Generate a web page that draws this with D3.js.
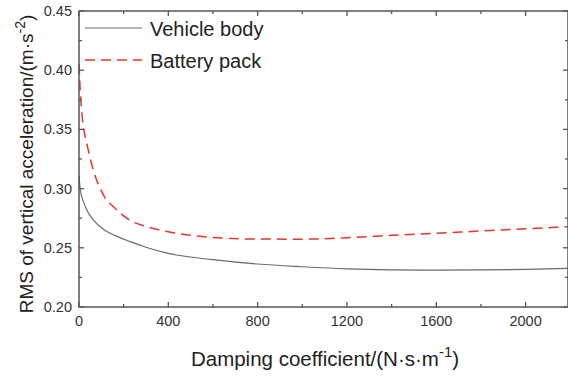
<!DOCTYPE html>
<html lang="en">
<head>
    <meta charset="UTF-8">
    <script src="https://cdn.jsdelivr.net/npm/d3@7"></script>
    <title>RMS of vertical acceleration vs damping coefficient</title>
    <style>
        html, body {
            margin: 0px;
            padding: 0px;
            background-color: #ffffff;
            font-family: "Liberation Sans", Arial, sans-serif;
        }
        svg { display: block; }
    </style>
</head>
<body>
    <div id='chart'></div>
    <script>

        // damping coefficient (N·s/m) and RMS values
        let damping = [0, 5, 10, 20, 35, 64, 110, 160, 230, 300, 400, 600, 800, 1000, 1200, 1400, 1600, 1800, 2000, 2190];
        let body_rms = [0.311, 0.300, 0.295, 0.289, 0.282, 0.2735, 0.2655, 0.2605, 0.2552, 0.2505, 0.2453, 0.2400, 0.2363, 0.2340, 0.2322, 0.2314, 0.2312, 0.2313, 0.2318, 0.2327];
        let battery_rms = [0.405, 0.385, 0.370, 0.352, 0.338, 0.3157, 0.2945, 0.2836, 0.273, 0.268, 0.2636, 0.2587, 0.2574, 0.2573, 0.2585, 0.2605, 0.2622, 0.2642, 0.2661, 0.2678];

        let x_ticks = [0, 400, 800, 1200, 1600, 2000];
        let x_minor = [200, 600, 1000, 1400, 1800, 2200];
        let y_ticks = [0.20, 0.25, 0.30, 0.35, 0.40, 0.45];
        let y_minor = [0.225, 0.275, 0.325, 0.375, 0.425];

        let series = [
            { name: 'Vehicle body', values: body_rms, colour: '#6b6b6b', width: 1.2, dash: null },
            { name: 'Battery pack', values: battery_rms, colour: '#e8342c', width: 1.5, dash: '10,6' }
        ];

        let width = 568, height = 376;
        let m_left = 79, m_right = 568, m_top = 11, m_bottom = 307;
        let axis_colour = '#555';

        let svg = d3.select('#chart').append('svg').attr('width', width).attr('height', height);

        let x = d3.scaleLinear().domain([0, 2190]).range([m_left, m_right]);
        let y = d3.scaleLinear().domain([0.20, 0.45]).range([m_bottom, m_top]);

        // lines
        let line = d3.line().curve(d3.curveMonotoneX);
        series.forEach(s => {
            let pts = damping.map((d, i) => [x(d), y(s.values[i])]);
            svg.append('path')
                .attr('d', line(pts))
                .attr('fill', 'none')
                .attr('stroke', s.colour)
                .attr('stroke-width', s.width)
                .attr('stroke-dasharray', s.dash);
        });

        // ticks inside the frame on all four sides
        let tick = function(x1, y1, x2, y2) {
            svg.append('line')
                .attr('x1', x1).attr('y1', y1).attr('x2', x2).attr('y2', y2)
                .attr('stroke', axis_colour).attr('stroke-width', 1.3);
        };
        x_ticks.forEach(t => { tick(x(t), m_bottom, x(t), m_bottom - 5); tick(x(t), m_top, x(t), m_top + 5); });
        x_minor.forEach(t => { tick(x(t), m_bottom, x(t), m_bottom - 3); tick(x(t), m_top, x(t), m_top + 3); });
        y_ticks.forEach(t => { tick(m_left, y(t), m_left + 5, y(t)); tick(m_right, y(t), m_right - 5, y(t)); });
        y_minor.forEach(t => { tick(m_left, y(t), m_left + 3, y(t)); tick(m_right, y(t), m_right - 3, y(t)); });

        // frame
        svg.append('rect')
            .attr('x', m_left).attr('y', m_top)
            .attr('width', m_right - m_left).attr('height', m_bottom - m_top)
            .attr('fill', 'none')
            .attr('stroke', axis_colour)
            .attr('stroke-width', 1.5);

        // tick labels
        svg.selectAll('text.xt')
            .data(x_ticks)
            .join('text')
            .attr('class', 'xt')
            .attr('x', d => x(d))
            .attr('y', 326)
            .attr('text-anchor', 'middle')
            .attr('font-size', 14.5)
            .attr('fill', '#333')
            .text(d => d);

        svg.selectAll('text.yt')
            .data(y_ticks)
            .join('text')
            .attr('class', 'yt')
            .attr('x', 72)
            .attr('y', d => y(d) + 5)
            .attr('text-anchor', 'end')
            .attr('font-size', 14.5)
            .attr('fill', '#333')
            .text(d => d3.format('.2f')(d));

        // axis titles
        let xt = svg.append('text')
            .attr('x', 325).attr('y', 366)
            .attr('text-anchor', 'middle')
            .attr('font-size', 20.5)
            .attr('fill', '#222');
        xt.append('tspan').text('Damping coefficient/(N·s·m');
        xt.append('tspan').attr('dy', -9).attr('font-size', 15).text('-1');
        xt.append('tspan').attr('dy', 9).text(')');

        let yt = svg.append('text')
            .attr('transform', 'translate(33,164) rotate(-90)')
            .attr('text-anchor', 'middle')
            .attr('font-size', 19)
            .attr('fill', '#222');
        yt.append('tspan').text('RMS of vertical acceleration/(m·s');
        yt.append('tspan').attr('dy', -8).attr('font-size', 14).text('-2');
        yt.append('tspan').attr('dy', 8).text(')');

        // legend
        series.forEach((s, i) => {
            let ly = 28 + i * 32;
            svg.append('line')
                .attr('x1', 85).attr('x2', 142)
                .attr('y1', ly).attr('y2', ly)
                .attr('stroke', s.colour)
                .attr('stroke-width', s.width)
                .attr('stroke-dasharray', s.dash);
            svg.append('text')
                .attr('x', 150).attr('y', ly + 8)
                .attr('font-size', 20)
                .attr('fill', '#222')
                .text(s.name);
        });

    </script>
</body>
</html>
